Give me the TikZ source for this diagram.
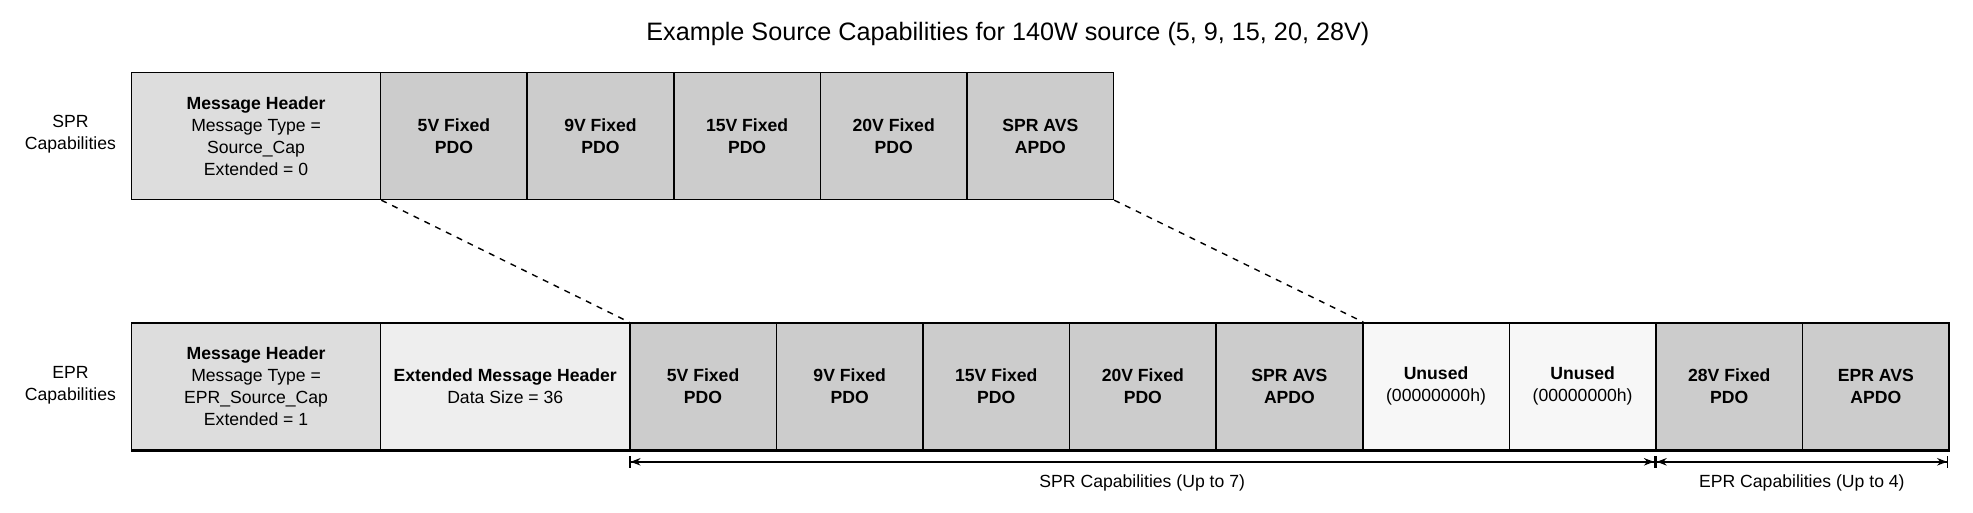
\documentclass[tikz,border=0pt]{standalone}
\usepackage{fontspec}
\setmainfont{Liberation Sans}
\usetikzlibrary{arrows.meta}
\definecolor{hdrgray}{HTML}{DDDDDD}
\definecolor{pdogray}{HTML}{CCCCCC}
\definecolor{extgray}{HTML}{EEEEEE}
\definecolor{unusedgray}{HTML}{F7F7F7}
\tikzset{
  cell/.style={draw, line width=0.7pt, anchor=north west, minimum height=63.5pt,
    inner sep=0pt, align=center, font=\fontsize{8.8}{11}\selectfont},
  hdr/.style={cell, fill=hdrgray, minimum width=124.5pt},
  pdo/.style={cell, fill=pdogray, minimum width=73.2pt, font=\fontsize{8.8}{11}\selectfont\bfseries},
  rowlabel/.style={align=center, font=\fontsize{8.8}{11}\selectfont},
  dim/.style={line width=0.7pt, {Bar[]Stealth[length=5pt]}-{Stealth[length=5pt]Bar[]}}
}
\begin{document}
\begin{tikzpicture}[x=0.629pt,y=-0.629pt]
\useasboundingbox (0,0) rectangle (1568,407);
\node (title) at (801,27) {\fontsize{12.6}{15}\selectfont Example Source Capabilities for 140W source (5, 9, 15, 20, 28V)};
% SPR row
\node[rowlabel] (sprlabel) at (56,107) {SPR\\Capabilities};
\node[hdr] (sprhdr) at (104,57) {\textbf{Message Header}\\Message Type =\\Source\_Cap\\Extended = 0};
\node[pdo] (spra) at (302,57) {5V Fixed\\PDO};
\node[pdo] (sprb) at (418.5,57) {9V Fixed\\PDO};
\node[pdo] (sprc) at (535,57) {15V Fixed\\PDO};
\node[pdo] (sprd) at (651.5,57) {20V Fixed\\PDO};
\node[pdo] (spre) at (768,57) {SPR AVS\\APDO};
% EPR row
\node[rowlabel] (eprlabel) at (56,306) {EPR\\Capabilities};
\node[hdr] (eprhdr) at (104,256) {\textbf{Message Header}\\Message Type =\\EPR\_Source\_Cap\\Extended = 1};
\node[hdr, fill=extgray] (eprext) at (302,256) {\textbf{Extended Message Header}\\Data Size = 36};
\node[pdo] (epra) at (500,256) {5V Fixed\\PDO};
\node[pdo] (eprb) at (616.5,256) {9V Fixed\\PDO};
\node[pdo] (eprc) at (733,256) {15V Fixed\\PDO};
\node[pdo] (eprd) at (849.5,256) {20V Fixed\\PDO};
\node[pdo] (epre) at (966,256) {SPR AVS\\APDO};
\node[cell, fill=unusedgray, minimum width=73.2pt] (epru) at (1082.5,256) {\textbf{Unused}\\(00000000h)};
\node[cell, fill=unusedgray, minimum width=73.2pt] (eprv) at (1199,256) {\textbf{Unused}\\(00000000h)};
\node[pdo] (eprf) at (1315.5,256) {28V Fixed\\PDO};
\node[pdo] (eprg) at (1432,256) {EPR AVS\\APDO};
\draw[line width=1.4pt] (eprhdr.south west) -- (eprg.south east);
% mapping
\draw[dashed, line width=0.7pt] (sprhdr.south east) -- (epra.north west);
\draw[dashed, line width=0.7pt] (spre.south east) -- (epre.north east);
% extents
\coordinate (sprstart) at (500,367);
\coordinate (eprstart) at (1315.5,367);
\coordinate (eprend) at (1548.5,367);
\draw[dim] (sprstart) -- node[below=3pt, font=\fontsize{8.8}{11}\selectfont] {SPR Capabilities (Up to 7)} (eprstart);
\draw[dim] (eprstart) -- node[below=3pt, font=\fontsize{8.8}{11}\selectfont] {EPR Capabilities (Up to 4)} (eprend);
\end{tikzpicture}
\end{document}
